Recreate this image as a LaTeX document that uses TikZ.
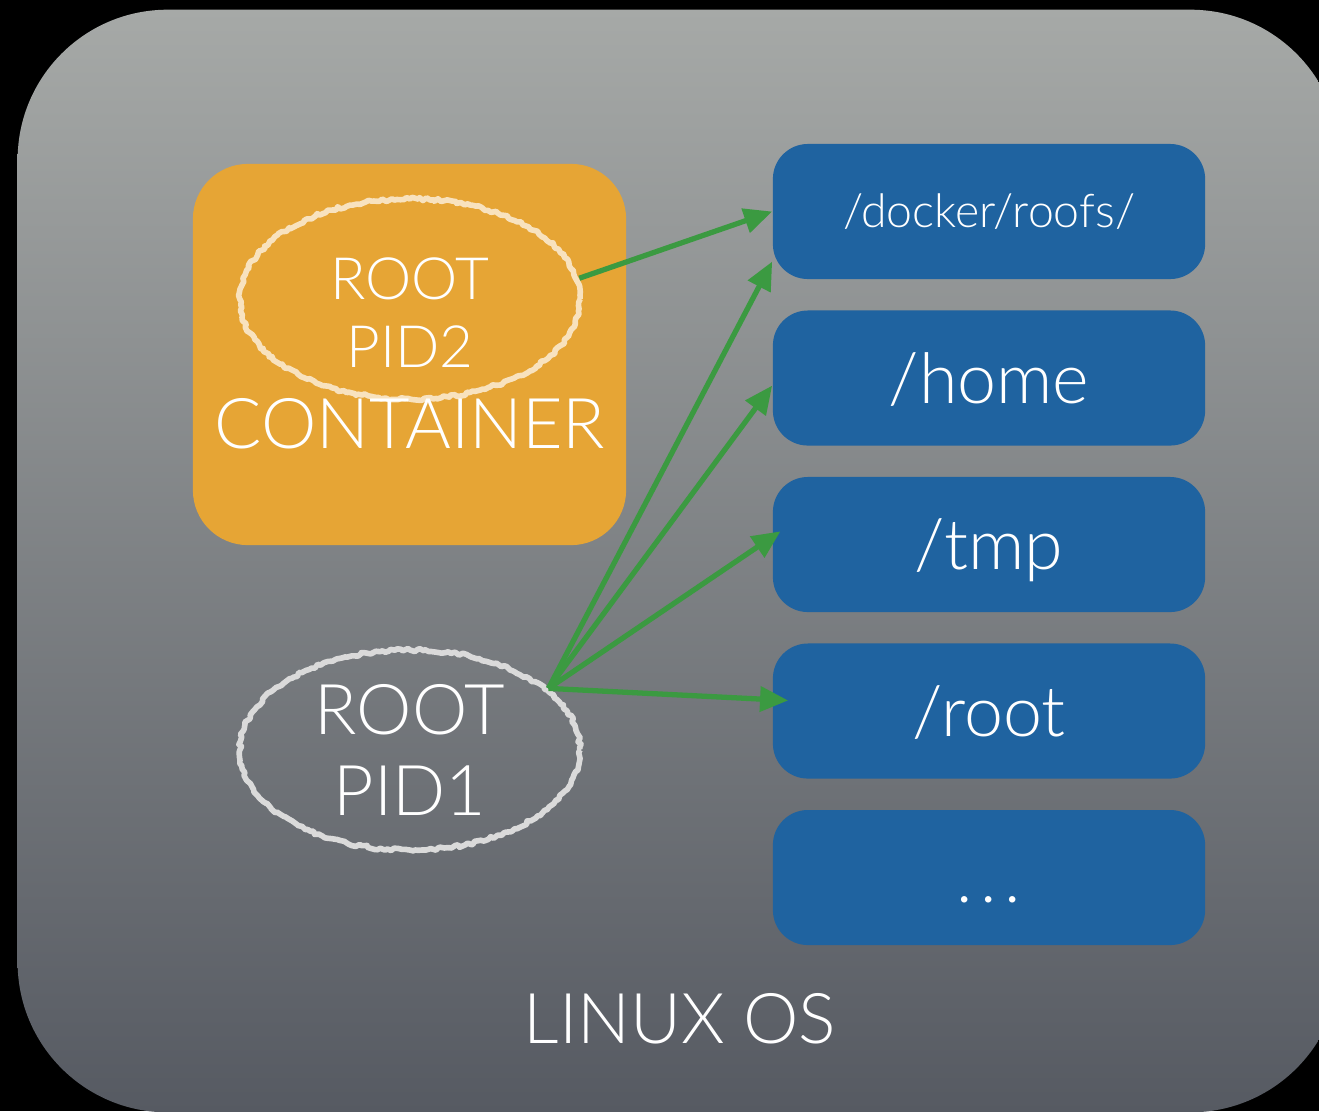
\documentclass[tikz,border=0pt]{standalone}
\usepackage{fontspec}
\IfFontExistsTF{Lato Light}{\setmainfont{Lato Light}}{\setmainfont{TeX Gyre Heros}}
\usepackage{tikz}
\usetikzlibrary{positioning,arrows.meta,shapes.geometric,decorations.pathmorphing}

\definecolor{ostop}{HTML}{A6A9A7}
\definecolor{osbottom}{HTML}{565A62}
\definecolor{ctrorange}{HTML}{E6A535}
\definecolor{dirblue}{HTML}{1F63A0}
\definecolor{linkgreen}{HTML}{3B9A41}
\definecolor{chalkcream}{HTML}{F8E2BE}
\definecolor{chalkgray}{HTML}{DADADA}

\begin{document}
\begin{tikzpicture}[x=0.01cm, y=-0.01cm,
	osn/.style={rectangle, rounded corners=1.5cm, draw=none, top color=ostop, bottom color=osbottom, minimum width=13.22cm, minimum height=11.02cm},
	ctrn/.style={rectangle, rounded corners=0.55cm, draw=none, fill=ctrorange, minimum width=4.33cm, minimum height=3.81cm},
	dirn/.style={rectangle, rounded corners=0.35cm, draw=none, fill=dirblue, text=white, minimum width=4.32cm, minimum height=1.35cm, inner sep=0pt, font=\fontsize{19.9}{24}\selectfont, text height=0.5cm, text depth=0pt},
	chalk/.style={ellipse, draw=#1, line width=1.6pt, line join=round, decorate, decoration={random steps, segment length=0.9pt, amplitude=0.45pt}, minimum width=3.4cm, minimum height=2cm, inner sep=0pt},
	bigtext/.style={text=white, align=center, inner sep=0pt, font=\fontsize{19.9}{23}\selectfont},
	link/.style={draw=linkgreen, line width=1.5pt, -{Triangle[length=8pt, width=7pt]}}]

	\pgfmathsetseed{11}
	\useasboundingbox (0,0) rectangle (1319,1111);
	\fill[black] (0,0) rectangle (1319,1111);
	\clip (0,0) rectangle (1319,1111);

	% host
	\node (os) [osn] at (679,561) {};
	\node (ostext) [bigtext, anchor=base] at (680,1043) {LINUX OS};

	% container with its own root
	\node (container) [ctrn] at (409.5,354.5) {};
	\node (pid2) [chalk=chalkcream] at (410,299) {};
	\node (pid2text) [bigtext, font=\fontsize{16.6}{19.3}\selectfont] at (410,313) {ROOT\\PID2};
	\node (ctrtext) [bigtext, anchor=base] at (410,448) {CONTAINER};

	% host root
	\node (pid1) [chalk=chalkgray, bigtext] at (410,750) {ROOT\\PID1};

	% directories
	\node (docker) [dirn, font=\fontsize{13.2}{16}\selectfont, text height=0.32cm] at (989,211.5) {/docker/roofs/};
	\node (home) [dirn, below=0.3cm of docker] {/home};
	\node (tmp) [dirn, below=0.3cm of home] {/tmp};
	\node (root) [dirn, below=0.3cm of tmp] {/root};
	\node (more) [dirn, below=0.3cm of root] {.\kern2.2pt.\kern2.2pt.};

	\draw[link] (pid2.7) -- (docker.west);
	\draw[link] (pid1.24) -- (docker.193.5);
	\draw[link] (pid1.24) -- (home.182);
	\draw[link, shorten >=-0.1cm] (pid1.24) -- (tmp.178);
	\draw[link, shorten >=-0.16cm] (pid1.24) -- (root.177);

\end{tikzpicture}
\end{document}
